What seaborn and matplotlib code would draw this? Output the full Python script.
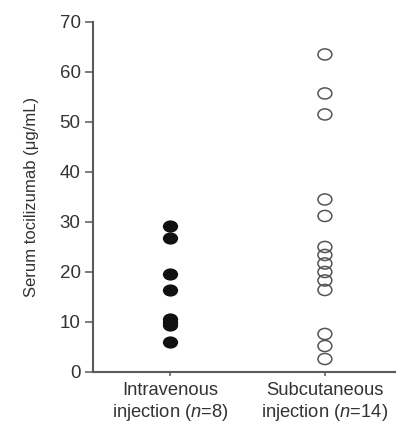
import numpy as np
import pandas as pd
import matplotlib
matplotlib.use("Agg")
import matplotlib.pyplot as plt
from matplotlib.path import Path
from matplotlib.transforms import Affine2D
import seaborn as sns

# data
groups = ["Intravenous", "Subcutaneous"]
iv_values = [29.1, 26.7, 19.5, 16.4, 10.5, 9.9, 9.4, 6.0]
sc_values = [63.5, 55.7, 51.5, 34.5, 31.2, 25.0, 23.4, 21.7, 20.0, 18.3, 16.4, 7.6, 5.2, 2.6]
tick_labels = ["Intravenous\ninjection ($\\it{n}$=8)", "Subcutaneous\ninjection ($\\it{n}$=14)"]
y_ticks = [0, 10, 20, 30, 40, 50, 60, 70]

df = pd.DataFrame({
    "group": [groups[0]] * len(iv_values) + [groups[1]] * len(sc_values),
    "value": iv_values + sc_values,
})

sns.set_theme(style="ticks")
plt.rcParams["font.family"] = ["Liberation Sans", "DejaVu Sans"]
plt.rcParams["mathtext.fontset"] = "custom"
plt.rcParams["mathtext.rm"] = "Liberation Sans"
plt.rcParams["mathtext.it"] = "Liberation Sans:italic"

# the source image is slightly stretched sideways, so use a wide ellipse marker
ellipse = Path.unit_circle().transformed(Affine2D().scale(1.25, 1.0))

fig = plt.figure(figsize=(3.96, 4.22), dpi=100)
ax = fig.add_axes([0.235, 0.1185, 0.765, 0.8295])

sns.stripplot(data=df[df["group"] == groups[0]], x="group", y="value", order=groups,
              jitter=False, color="#111111", marker=ellipse, size=11, linewidth=0, ax=ax)
sns.stripplot(data=df[df["group"] == groups[1]], x="group", y="value", order=groups,
              jitter=False, color="#555555", marker=ellipse, size=10, linewidth=1.1,
              edgecolor="#555555", ax=ax)
ax.collections[-1].set_facecolor("none")
ax.collections[-1].set_edgecolor("#555555")

ax.set_xlim(-0.5, 1.46)
ax.set_ylim(0, 70)
ax.set_yticks(y_ticks)
ax.set_xticks([0, 1])
ax.set_xticklabels(tick_labels, fontsize=13.2, color="#333333", linespacing=1.2)
ax.tick_params(axis="y", labelsize=13.5, labelcolor="#333333", length=6, width=1.2,
               color="#666666", pad=3)
ax.tick_params(axis="x", length=3, width=1.2, color="#666666", pad=4)
ax.set_xlabel("")
ax.set_ylabel("Serum tocilizumab (\u03bcg/mL)", fontsize=12, color="#333333", labelpad=15)

for side in ["top", "right"]:
    ax.spines[side].set_visible(False)
for side in ["left", "bottom"]:
    ax.spines[side].set_color("#5a5a5a")
    ax.spines[side].set_linewidth(1.5)

fig.savefig("out.png", dpi=100)
